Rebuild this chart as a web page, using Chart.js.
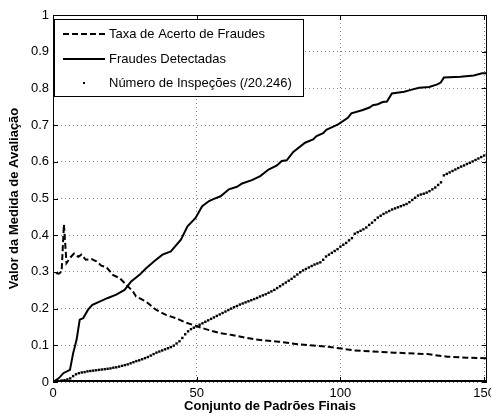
<!DOCTYPE html>
<html>
<head>
<meta charset="utf-8">
<script src="https://cdn.jsdelivr.net/npm/chart.js@4"></script>
<style>
  html, body { margin: 0; padding: 0; background: #fff; }
  #chart { display: block; }
</style>
</head>
<body>
<canvas id="chart" width="491" height="414"></canvas>
<script>
// Tick labels
const xTicks = [0, 50, 100, 150];
const yTicks = [0, 0.1, 0.2, 0.3, 0.4, 0.5, 0.6, 0.7, 0.8, 0.9, 1];

// Taxa de Acerto de Fraudes (dashed)
const taxaX = [1, 2, 3, 3.8, 4.7, 5.9, 7.3, 8.8, 9.9, 11.4, 13.4, 15.1, 16.8, 18.6, 20.8, 23.2, 25.5, 27.8, 28.9, 32.4, 35.8, 39.3, 42.7, 46.2, 49.7, 53.1, 57.7, 62.3, 66.9, 71.5, 78.4, 85.3, 92.3, 95.7, 100.3, 104.9, 118.8, 130.3, 137.2, 144.1, 151];
const taxaY = [0.297, 0.295, 0.301, 0.429, 0.324, 0.338, 0.35, 0.341, 0.347, 0.333, 0.335, 0.329, 0.317, 0.313, 0.292, 0.283, 0.265, 0.247, 0.233, 0.219, 0.197, 0.183, 0.174, 0.162, 0.153, 0.144, 0.134, 0.128, 0.121, 0.115, 0.11, 0.103, 0.098, 0.096, 0.091, 0.086, 0.08, 0.076, 0.069, 0.066, 0.065];

// Fraudes Detectadas (solid)
const fraudesX = [0, 2, 3.6, 5.9, 7, 8.2, 9.3, 10.5, 12.2, 13.7, 16.2, 19.1, 22, 24.9, 27.2, 30.1, 32.4, 35.2, 38.1, 41, 44.5, 46.8, 49.6, 51.9, 54.3, 56, 58.3, 61.2, 64, 65.8, 69.2, 72.1, 75, 77.9, 79.6, 81.3, 83.6, 87.7, 90.5, 91.7, 94, 95.1, 99.2, 102.6, 103.8, 107.8, 110.1, 111.3, 113, 114.7, 116.2, 117.9, 122.2, 124.5, 127.4, 130.9, 133.7, 134.9, 136, 141.8, 146.4, 149.3, 151];
const fraudesY = [0, 0.01, 0.024, 0.033, 0.078, 0.115, 0.17, 0.174, 0.197, 0.21, 0.219, 0.229, 0.238, 0.251, 0.274, 0.292, 0.31, 0.329, 0.347, 0.356, 0.388, 0.424, 0.447, 0.479, 0.493, 0.499, 0.506, 0.525, 0.532, 0.541, 0.55, 0.561, 0.579, 0.59, 0.602, 0.604, 0.627, 0.652, 0.661, 0.67, 0.678, 0.687, 0.702, 0.72, 0.732, 0.741, 0.748, 0.754, 0.757, 0.763, 0.764, 0.786, 0.791, 0.796, 0.802, 0.804, 0.811, 0.816, 0.83, 0.832, 0.835, 0.841, 0.841];

// Número de Inspeções (/20.246), one dot per pattern set 1..151
const inspecoesY = [
  0.000, 0.002, 0.004, 0.005, 0.007, 0.010, 0.016, 0.021, 0.024, 0.026,
  0.027, 0.029, 0.030, 0.031, 0.032, 0.033, 0.034, 0.035, 0.036, 0.037,
  0.039, 0.040, 0.042, 0.044, 0.046, 0.048, 0.051, 0.054, 0.057, 0.059,
  0.062, 0.065, 0.068, 0.072, 0.076, 0.080, 0.083, 0.086, 0.089, 0.092,
  0.095, 0.099, 0.105, 0.111, 0.120, 0.130, 0.138, 0.144, 0.148, 0.152,
  0.156, 0.160, 0.164, 0.168, 0.172, 0.176, 0.180, 0.184, 0.188, 0.192,
  0.196, 0.200, 0.204, 0.207, 0.211, 0.214, 0.217, 0.220, 0.223, 0.226,
  0.229, 0.233, 0.236, 0.239, 0.243, 0.247, 0.251, 0.256, 0.261, 0.266,
  0.271, 0.276, 0.281, 0.287, 0.293, 0.299, 0.304, 0.308, 0.312, 0.316,
  0.320, 0.323, 0.326, 0.333, 0.342, 0.347, 0.352, 0.357, 0.362, 0.369,
  0.374, 0.379, 0.386, 0.392, 0.404, 0.408, 0.412, 0.416, 0.421, 0.428,
  0.434, 0.441, 0.448, 0.453, 0.458, 0.462, 0.466, 0.470, 0.473, 0.476,
  0.479, 0.482, 0.485, 0.490, 0.496, 0.502, 0.508, 0.511, 0.513, 0.516,
  0.520, 0.525, 0.530, 0.537, 0.544, 0.563, 0.567, 0.571, 0.575, 0.579,
  0.583, 0.587, 0.590, 0.594, 0.597, 0.601, 0.605, 0.609, 0.613, 0.617,
  0.620
];

const FONT = 'Arial, "Liberation Sans", Helvetica, sans-serif';
Chart.defaults.font.family = FONT;
Chart.defaults.color = '#000';

const pts = (xs, ys) => xs.map((x, i) => ({ x: x, y: ys[i] }));

// box, inner tick marks and legend drawn like the original figure
const boxPlugin = {
  id: 'box',
  afterDraw(chart) {
    const { ctx, chartArea: a, scales } = chart;
    ctx.save();
    ctx.strokeStyle = '#000';
    ctx.lineWidth = 1;
    ctx.strokeRect(a.left + 0.5, a.top + 0.5, a.right - a.left - 1, a.bottom - a.top - 1);
    ctx.lineWidth = 2;
    ctx.beginPath();
    ctx.moveTo(a.left, a.bottom - 1);
    ctx.lineTo(a.right, a.bottom - 1);
    ctx.stroke();
    ctx.lineWidth = 1;
    ctx.beginPath();
    xTicks.forEach(v => {
      const px = Math.round(scales.x.getPixelForValue(v)) + 0.5;
      ctx.moveTo(px, a.bottom); ctx.lineTo(px, a.bottom - 5);
      ctx.moveTo(px, a.top); ctx.lineTo(px, a.top + 5);
    });
    yTicks.forEach(v => {
      const py = Math.round(scales.y.getPixelForValue(v)) + 0.5;
      ctx.moveTo(a.left, py); ctx.lineTo(a.left + 5, py);
      ctx.moveTo(a.right, py); ctx.lineTo(a.right - 5, py);
    });
    ctx.stroke();

    // legend
    const lx = a.left + 1, ly = a.top + 4, lw = 250, lh = 78;
    ctx.fillStyle = '#fff';
    ctx.fillRect(lx, ly, lw, lh);
    ctx.strokeStyle = '#000';
    ctx.lineWidth = 1;
    ctx.strokeRect(lx + 0.5, ly + 0.5, lw - 1, lh - 1);
    const rows = [ly + 15, ly + 40, ly + 64];
    chart.data.datasets.forEach((ds, i) => {
      const y = rows[i];
      ctx.strokeStyle = '#000';
      ctx.fillStyle = '#000';
      if (ds.showLine) {
        ctx.lineWidth = 2;
        ctx.setLineDash(ds.borderDash || []);
        ctx.beginPath();
        ctx.moveTo(lx + 9, y);
        ctx.lineTo(lx + 51, y);
        ctx.stroke();
        ctx.setLineDash([]);
      } else {
        ctx.fillRect(lx + 29, y - 1, 2, 2);
      }
      ctx.font = '13px ' + FONT;
      ctx.textBaseline = 'middle';
      ctx.textAlign = 'left';
      ctx.fillText(ds.label, lx + 55, y);
    });
    ctx.restore();
  }
};

new Chart(document.getElementById('chart'), {
  type: 'scatter',
  data: {
    datasets: [
      {
        label: 'Taxa de Acerto de Fraudes',
        data: pts(taxaX, taxaY),
        showLine: true,
        borderColor: '#000',
        borderWidth: 2,
        borderDash: [6, 3],
        pointRadius: 0,
        tension: 0
      },
      {
        label: 'Fraudes Detectadas',
        data: pts(fraudesX, fraudesY),
        showLine: true,
        borderColor: '#000',
        borderWidth: 2,
        pointRadius: 0,
        tension: 0
      },
      {
        label: 'Número de Inspeções (/20.246)',
        data: inspecoesY.map((y, i) => ({ x: i + 1, y: y })),
        showLine: false,
        pointStyle: 'rect',
        pointRadius: 1.7,
        pointBorderWidth: 0,
        backgroundColor: '#000',
        borderColor: '#000'
      }
    ]
  },
  options: {
    responsive: false,
    animation: false,
    layout: { padding: { top: 15, right: 1, left: 0, bottom: 0 } },
    plugins: { legend: { display: false }, tooltip: { enabled: false } },
    scales: {
      x: {
        type: 'linear',
        min: 0,
        max: 151,
        afterBuildTicks: s => { s.ticks = xTicks.map(v => ({ value: v })); },
        afterFit: s => { s.height = 32; s.paddingLeft = 0; s.paddingRight = 0; },
        grid: { color: '#888', lineWidth: 1, drawTicks: false },
        border: { display: false, dash: [1, 3] },
        ticks: { font: { size: 13 }, padding: 4, maxRotation: 0, color: '#000' },
        title: {
          display: true,
          text: 'Conjunto de Padrões Finais',
          font: { size: 13, weight: 'bold' },
          padding: { top: 0, bottom: 0 },
          color: '#000'
        }
      },
      y: {
        min: 0,
        max: 1,
        afterBuildTicks: s => { s.ticks = yTicks.map(v => ({ value: v })); },
        afterFit: s => { s.width = 53; s.paddingTop = 0; s.paddingBottom = 0; },
        grid: { color: '#888', lineWidth: 1, drawTicks: false },
        border: { display: false, dash: [1, 3] },
        ticks: {
          font: { size: 13 },
          padding: 4,
          color: '#000',
          callback: v => String(Math.round(v * 10) / 10)
        },
        title: {
          display: true,
          text: 'Valor da Medida de Avaliação',
          font: { size: 13, weight: 'bold' },
          padding: { top: 7, bottom: 0 },
          color: '#000'
        }
      }
    }
  },
  plugins: [boxPlugin]
});
</script>
</body>
</html>
